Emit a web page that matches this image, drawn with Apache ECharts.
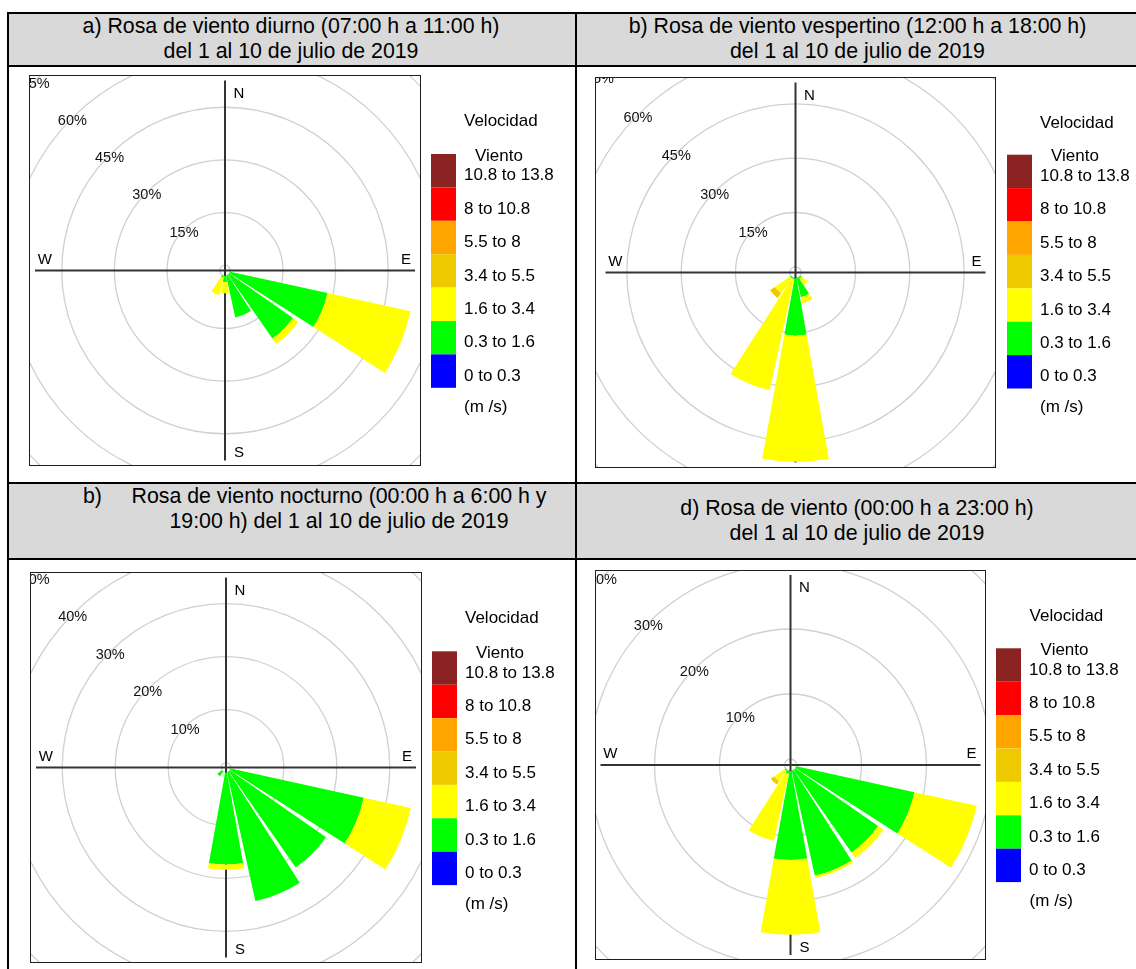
<!DOCTYPE html>
<html><head><meta charset="utf-8">
<script src="https://cdn.jsdelivr.net/npm/echarts@6.0.0/dist/echarts.min.js"></script>
<style>
html,body{margin:0;padding:0;background:#fff}
body{width:1136px;height:969px;position:relative;overflow:hidden;font-family:'Liberation Sans',Arial,Helvetica,sans-serif;color:#000}
.blk{position:absolute;background:#000}
.hdr{position:absolute;background:#d9d9d9}
.ttl{position:absolute;font-size:21.33px;line-height:25px;white-space:nowrap;text-align:center;transform:translateX(-50%)}
.frame{position:absolute;border:1.5px solid #1e1e1e;box-sizing:border-box}
.frame>div{width:100%;height:100%}
.leg{position:absolute}
</style></head><body>
<div class="hdr" style="left:9px;top:13.5px;width:1130px;height:51.5px"></div>
<div class="hdr" style="left:9px;top:483.5px;width:1130px;height:74.5px"></div>
<div class="blk" style="left:7px;top:12px;width:1132px;height:1.5px"></div>
<div class="blk" style="left:7px;top:65px;width:1132px;height:2px"></div>
<div class="blk" style="left:7px;top:481.5px;width:1132px;height:2px"></div>
<div class="blk" style="left:7px;top:558px;width:1132px;height:2px"></div>
<div class="blk" style="left:7px;top:12px;width:2px;height:960px"></div>
<div class="blk" style="left:575px;top:12px;width:1.5px;height:960px"></div>

<div class="ttl" style="left:291px;top:14.2px">a) Rosa de viento diurno (07:00 h a 11:00 h)<br>del 1 al 10 de julio de 2019</div>
<div class="ttl" style="left:857.5px;top:14.2px">b) Rosa de viento vespertino (12:00 h a 18:00 h)<br>del 1 al 10 de julio de 2019</div>
<div class="ttl" style="left:83px;top:484.2px;transform:none;text-align:left">b)</div>
<div class="ttl" style="left:339px;top:484.2px">Rosa de viento nocturno (00:00 h a 6:00 h y<br>19:00 h) del 1 al 10 de julio de 2019</div>
<div class="ttl" style="left:857px;top:495.8px">d) Rosa de viento (00:00 h a 23:00 h)<br>del 1 al 10 de julio de 2019</div>

<script>
const FONT = "'Liberation Sans', Arial, sans-serif";

// ---------------- data ----------------
const directions = ['N','NNE','NE','ENE','E','ESE','SE','SSE','S','SSW','SW','WSW','W','WNW','NW','NNW'];
const bearings = [0,22.5,45,67.5,90,112.5,135,157.5,180,202.5,225,247.5,270,292.5,315,337.5];
const speedClasses = ['0 to 0.3','0.3 to 1.6','1.6 to 3.4','3.4 to 5.5','5.5 to 8','8 to 10.8','10.8 to 13.8'];
const speedColors = ['#0000FF','#00FF00','#FFFF00','#EEC900','#FFA500','#FF0000','#8B2323'];
const compassLabels = ['N','E','S','W'];
const legendTitle = 'Velocidad';
const legendSubtitle = 'Viento';
const legendUnit = '(m /s)';

const ticksDiurno = [0,15,30,45,60,75];
const ticksVespertino = [0,15,30,45,60,75];
const ticksNocturno = [0,10,20,30,40,50];
const ticksTotal = [0,10,20,30,40];

// frequency (%) per direction, N .. NNW
const diurno_03_16 = [0,0,0,0,0,28.4,22.1,12.2,1.8,0.6,0,0,0,0,0,0];
const diurno_16_34 = [0,0,0,0,0,24.2,1.9,0,3.2,5.0,0,0,0,0,0,0];

const vespertino_03_16 = [0,0,0,0,0,0,0.5,5.4,15.8,0.3,0.3,0,0,0,0,0];
const vespertino_16_34 = [0,0,0,0,0,0,2.1,1.7,34.9,31.4,5.1,0,0,0,0,0];
const vespertino_34_55 = [0,0,0,0,0,0,0,0,0,0,1.6,0,0,0,0,0];

const nocturno_03_16 = [0,0,0,0,0,25.7,22.1,24.9,17.4,0,1.1,0,0,0,0,0];
const nocturno_16_34 = [0,0,0,0,0,9.1,0,0,1.0,0,0,0,0,0,0,0];

const total_03_16 = [0,0,0,0,0,18.6,15.5,16.5,13.7,0.5,0.2,0,0,0,0,0];
const total_16_34 = [0,0,0,0,0,9.8,1.0,0.4,11.5,10.5,1.95,0,0,0,0,0];
const total_34_55 = [0,0,0,0,0,0,0,0,0,0,0.6,0,0,0,0,0];

// ---------------- layout ----------------
const panels = [
  {frame:[29,75,392,391], inner:5.3, k:3.51, cross:190, ticks:ticksDiurno,
   values:{'0.3 to 1.6':diurno_03_16,'1.6 to 3.4':diurno_16_34},
   leg:{box:[431,154], vel:[464,121], vien:[475,156], unit:[464,407]}},
  {frame:[595,77,401,391], inner:5.7, k:3.62, cross:190, ticks:ticksVespertino,
   values:{'0.3 to 1.6':vespertino_03_16,'1.6 to 3.4':vespertino_16_34,'3.4 to 5.5':vespertino_34_55},
   leg:{box:[1007,155], vel:[1040,123.3], vien:[1051,157], unit:[1040,408]}},
  {frame:[30,572,392,391], inner:4.8, k:5.3, cross:190, ticks:ticksNocturno,
   values:{'0.3 to 1.6':nocturno_03_16,'1.6 to 3.4':nocturno_16_34},
   leg:{box:[432,651], vel:[465,617.7], vien:[476,653], unit:[465,904.3]}},
  {frame:[595,570,391,390], inner:6, k:6.5, cross:190, ticks:ticksTotal,
   values:{'0.3 to 1.6':total_03_16,'1.6 to 3.4':total_16_34,'3.4 to 5.5':total_34_55},
   leg:{box:[996,648.3], vel:[1029.6,616], vien:[1040.6,650], unit:[1029.6,901.7]}}
];

const angleValues = bearings.map(b => b >= 315 ? b - 360 : b);

function plotOption(p){
  const max = p.ticks[p.ticks.length-1];
  const interval = p.ticks[1]-p.ticks[0];
  const series = [];
  speedClasses.forEach((name, ci) => {
    const vals = p.values[name];
    if (!vals) return;
    series.push({
      type:'bar', name, coordinateSystem:'polar', polarIndex:0, stack:'rose',
      barWidth:'90%', silent:true,
      itemStyle:{color:speedColors[ci], borderWidth:0},
      data: vals.map((v,i)=>[v, angleValues[i]])
    });
  });
  const lab = (pad) => ({fontSize:15, fontFamily:FONT, color:'#000', lineHeight:16, padding:pad});
  return {
    animation:false,
    polar:[
      {center:['50%','50%'], radius:[p.inner, p.inner + p.k*max]},
      {center:['50%','50%'], radius:[0, p.cross]}
    ],
    angleAxis:[
      {polarIndex:0, type:'value', min:-45, max:315, startAngle:135, clockwise:true,
       axisLine:{show:false}, axisTick:{show:false}, axisLabel:{show:false}, splitLine:{show:false}},
      {polarIndex:1, type:'value', min:0, max:360, interval:90, startAngle:90, clockwise:true,
       axisLine:{show:false}, axisTick:{show:false},
       splitLine:{show:true, lineStyle:{color:'#333', width:2}},
       axisLabel:{show:true, margin:-21,
         formatter:(v)=>{const i=Math.round(v/90); return i<4 ? '{'+'nesw'[i]+'|'+compassLabels[i]+'}' : '';},
         rich:{n:lab([0,0,0,28]), e:lab([0,0,22,7]), s:lab([11,0,0,28]), w:lab([0,4,22,0])}}}
    ],
    radiusAxis:[
      {polarIndex:0, type:'value', min:0, max:max, interval:interval,
       axisLine:{show:false}, axisTick:{show:false},
       splitLine:{show:true, lineStyle:{color:'#d0d0d0', width:1.3}},
       axisLabel:{show:true, margin:0, align:'center', verticalAlign:'middle',
         fontSize:14.5, fontFamily:FONT, color:'#111', showMinLabel:true, showMaxLabel:true,
         formatter:(v)=> v===0 ? '' : '{p|'+v+'%}',
         rich:{p:{fontSize:14.5, fontFamily:FONT, color:'#111', lineHeight:16, padding:[6,0,0,0]}}}},
      {polarIndex:1, type:'value', min:0, max:1, show:false}
    ],
    series
  };
}

function legendOption(p, L, T){
  const g = p.leg;
  const txt = (t, pos) => ({type:'text', x:pos[0]-L, y:pos[1]-T,
     style:{text:t, fontSize:17, fontFamily:FONT, fill:'#000', align:'left', verticalAlign:'middle'}});
  return {
    animation:false,
    grid:{show:false, left:0, top:0, width:1, height:1},
    xAxis:{show:false, type:'category', data:[]},
    yAxis:{show:false, type:'value'},
    legend:{orient:'vertical', left:g.box[0]-L, top:g.box[1]-T, padding:0,
      itemWidth:25, itemHeight:33.4, itemGap:0, icon:'rect', selectedMode:false,
      data: speedClasses.slice().reverse(),
      itemStyle:{borderWidth:0},
      formatter:(name)=>'{t|'+name+'}',
      textStyle:{fontSize:17, fontFamily:FONT, color:'#000',
        rich:{t:{fontSize:17, fontFamily:FONT, color:'#000', lineHeight:19, padding:[10,0,0,3]}}}},
    graphic:[txt(legendTitle, g.vel), txt(legendSubtitle, g.vien), txt(legendUnit, g.unit)],
    series: speedClasses.map((name,ci)=>({type:'bar', name, data:[], itemStyle:{color:speedColors[ci]}}))
  };
}

panels.forEach(p => {
  const f = document.createElement('div');
  f.className = 'frame';
  f.style.cssText = `left:${p.frame[0]}px;top:${p.frame[1]}px;width:${p.frame[2]}px;height:${p.frame[3]}px`;
  const inner = document.createElement('div');
  f.appendChild(inner);
  document.body.appendChild(f);
  echarts.init(inner, null, {renderer:'canvas'}).setOption(plotOption(p));

  const L = p.leg.box[0]-10, T = p.leg.vel[1]-30;
  const d = document.createElement('div');
  d.className = 'leg';
  d.style.cssText = `left:${L}px;top:${T}px;width:140px;height:345px`;
  document.body.appendChild(d);
  echarts.init(d, null, {renderer:'canvas'}).setOption(legendOption(p, L, T));
});
</script>
</body></html>
